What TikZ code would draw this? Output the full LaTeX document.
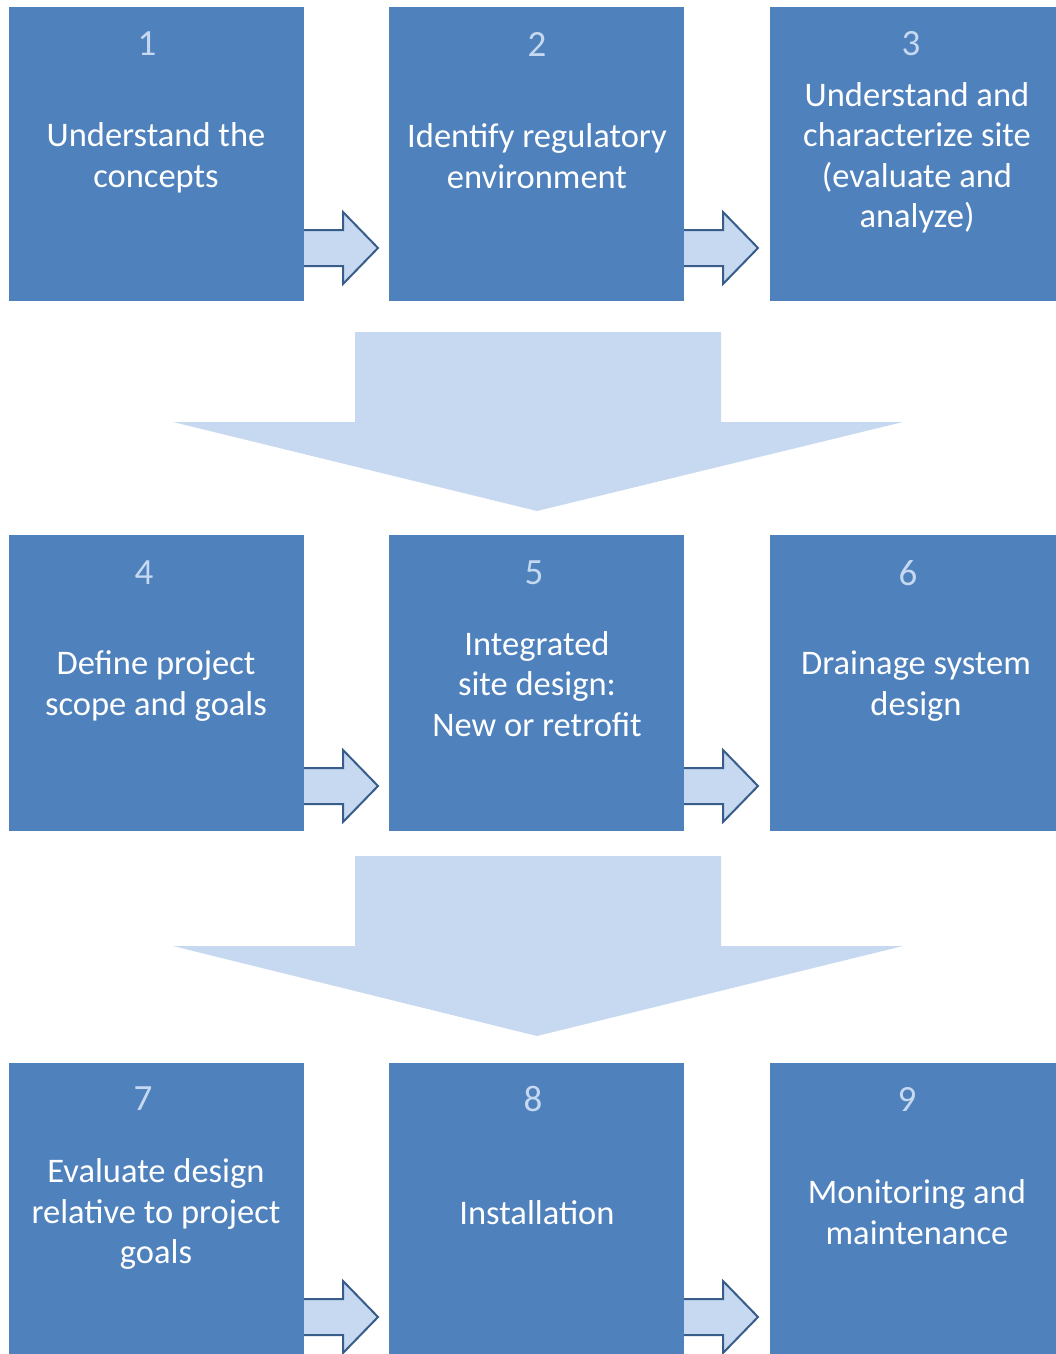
\documentclass[tikz,border=0pt]{standalone}
\usepackage{fontspec}
\setmainfont{Carlito}
\definecolor{boxblue}{HTML}{4F81BD}
\definecolor{lightblue}{HTML}{C6D9F1}
\definecolor{arrowline}{HTML}{385D8A}
\tikzset{
  box/.style={fill=boxblue, draw=none, rectangle, inner sep=0pt},
  numtxt/.style={text=lightblue, font=\fontsize{37}{40}\selectfont, inner sep=0pt},
  bodytxt/.style={text=white, font=\fontsize{34.5}{40.5}\selectfont, align=center, inner sep=0pt},
  smallarrow/.style={fill=lightblue, draw=arrowline, line width=2pt, line join=miter},
  bigarrow/.style={fill=lightblue, draw=none},
}
\begin{document}
\begin{tikzpicture}[x=1pt,y=-1pt]
\useasboundingbox (0,0) rectangle (1056,1354);
% big arrows
\fill[bigarrow] (355,332) -- (721,332) -- (721,422) -- (903,422) -- (537,511) -- (173,422) -- (355,422) -- cycle;
\fill[bigarrow] (355,856) -- (721,856) -- (721,946) -- (903,946) -- (537,1036) -- (173,946) -- (355,946) -- cycle;
% small arrows
\foreach \x in {0,380}{
  \foreach \t in {248,786,1317}{
    \draw[smallarrow] (290+\x,\t-18) -- (343+\x,\t-18) -- (343+\x,\t-36) -- (378+\x,\t) -- (343+\x,\t+36) -- (343+\x,\t+18) -- (290+\x,\t+18);
  }
}
% boxes
\node[box, minimum width=295pt, minimum height=294pt] (b1) at (156.5,154) {};
\node[box, minimum width=295pt, minimum height=294pt] (b2) at (536.5,154) {};
\node[box, minimum width=286pt, minimum height=294pt] (b3) at (913,154) {};
\node[box, minimum width=295pt, minimum height=296pt] (b4) at (156.5,683) {};
\node[box, minimum width=295pt, minimum height=296pt] (b5) at (536.5,683) {};
\node[box, minimum width=286pt, minimum height=296pt] (b6) at (913,683) {};
\node[box, minimum width=295pt, minimum height=291pt] (b7) at (156.5,1208.5) {};
\node[box, minimum width=295pt, minimum height=291pt] (b8) at (536.5,1208.5) {};
\node[box, minimum width=286pt, minimum height=291pt] (b9) at (913,1208.5) {};
% numbers
\node[numtxt] (n1) at (147,44) {1};
\node[numtxt] (n2) at (537,44) {2};
\node[numtxt] (n3) at (911,44) {3};
\node[numtxt] (n4) at (144,573) {4};
\node[numtxt] (n5) at (534,573) {5};
\node[numtxt] (n6) at (908,573) {6};
\node[numtxt] (n7) at (143,1099) {7};
\node[numtxt] (n8) at (533,1099) {8};
\node[numtxt] (n9) at (907,1099) {9};
% body texts
\node[bodytxt] (t1) at (156,158) {Understand the\\concepts};
\node[bodytxt] (t2) at (537,156) {Identify regulatory\\environment};
\node[bodytxt] (t3) at (917,158) {Understand and\\characterize site\\(evaluate and\\analyze)};
\node[bodytxt] (t4) at (156,686) {Define project\\scope and goals};
\node[bodytxt] (t5) at (537,684) {Integrated\\site design:\\New or retrofit};
\node[bodytxt] (t6) at (916,686) {Drainage system\\design};
\node[bodytxt] (t7) at (156,1214) {Evaluate design\\relative to project\\goals};
\node[bodytxt] (t8) at (537,1213) {Installation};
\node[bodytxt] (t9) at (917,1212) {Monitoring and\\maintenance};
\end{tikzpicture}
\end{document}
